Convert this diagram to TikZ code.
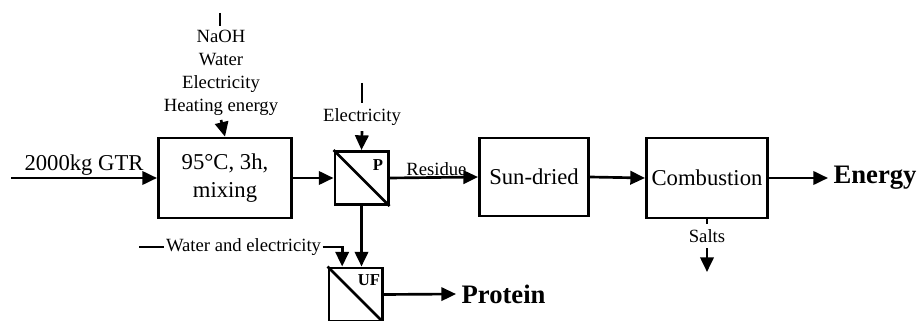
\documentclass[tikz,border=0pt]{standalone}
\usepackage{fontspec}
\setmainfont{Liberation Serif}
\usetikzlibrary{arrows.meta, positioning}
\tikzset{
  unit/.style      = {draw, line width=2pt, inner sep=0pt, align=center,
                      font=\fontsize{17}{21}\selectfont},
  membrane/.style  = {draw, line width=2pt, minimum size=40pt, inner sep=0pt},
  arrow/.style     = {-{Triangle[length=11pt, width=10pt]}, line width=2pt},
  feed/.style      = {align=center, inner sep=2pt, font=\fontsize{14}{17.25}\selectfont},
  product/.style   = {inner sep=4pt, font=\bfseries\fontsize{20}{24}\selectfont},
  unitlabel/.style = {inner sep=0pt, font=\bfseries\fontsize{12.5}{15}\selectfont},
}
\begin{document}
\begin{tikzpicture}[x=0.75pt, y=-0.75pt]
  \useasboundingbox (0,0) rectangle (917,321);
  % process units
  \node[unit, minimum width=100pt, minimum height=60pt] (extract) at (225,178) {95°C, 3h,\\mixing};
  \node[membrane] (press) at (361.5,178) {};
  \draw[line width=2pt] (press.north west) -- (press.south east);
  \node[unitlabel] at (378,165) {P};
  \node[membrane] (uf) at (355.5,294.5) {};
  \draw[line width=2pt] (uf.north west) -- (uf.south east);
  \node[unitlabel] at (369,280) {UF};
  \node[unit, minimum width=82pt, minimum height=58.5pt] (sun) at (534,177) {Sun-dried};
  \node[unit, minimum width=91pt, minimum height=60pt] (comb) at (707,178) {Combustion};
  % feed to extraction
  \coordinate (gtrin) at (11,178);
  \draw[arrow] (gtrin) -- (extract.west)
    node[midway, above, inner sep=1pt, font=\fontsize{17}{21}\selectfont] {2000kg GTR};
  \coordinate (chemtop) at (220,13);
  \node[feed, inner sep=3pt] (chem) at (221,73) {NaOH\\Water\\Electricity\\Heating energy};
  \draw[line width=2pt] (chemtop) -- (chem.north -| chemtop);
  \draw[arrow] (chem.south) -- (extract.north);
  % pressing
  \draw[arrow] (extract.east) -- (press.west);
  \coordinate (electop) at (362,83);
  \node[feed, inner sep=4pt] (elec) at (362,117) {Electricity};
  \draw[line width=2pt] (electop) -- (elec.north);
  \draw[arrow] (elec.south) -- (press.north);
  \draw[arrow] (press.east) -- (sun.west)
    node[midway, above, inner sep=0.5pt, xshift=2pt, font=\fontsize{14}{17}\selectfont] {Residue};
  % residue line
  \draw[arrow] (sun.east) -- (comb.west);
  \node[product, anchor=west] (energy) at (828,178) {Energy};
  \draw[arrow] (comb.east) -- (energy.west);
  \node[feed, inner sep=4pt] (salts) at (707,236) {Salts};
  \coordinate (saltsout) at (707,272);
  \draw[line width=2pt] (comb.south) -- (salts.north);
  \draw[arrow] (salts.south) -- (saltsout);
  % ultrafiltration
  \draw[arrow] (press.south) -- (uf.north -| press.south);
  \coordinate (waterin) at (139,247);
  \node[feed, inner sep=1pt] (water) at (243.5,247) {Water and electricity};
  \draw[line width=2pt] (waterin) -- (water.west);
  \draw[arrow] (water.east) -| ([xshift=11pt]uf.north west);
  \node[product, anchor=west] (protein) at (456,294) {Protein};
  \draw[arrow] (uf.east) -- (protein.west);
\end{tikzpicture}
\end{document}
